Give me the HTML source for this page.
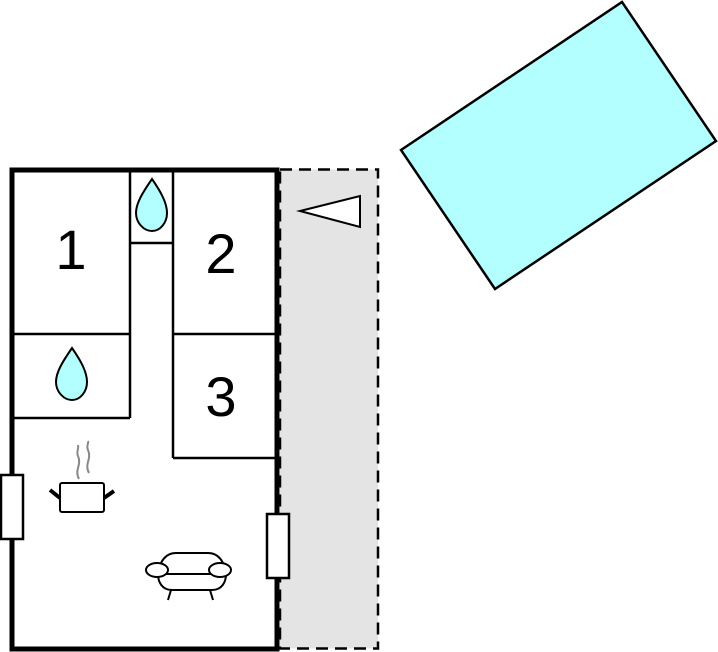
<!DOCTYPE html>
<html><head><meta charset="utf-8"><style>
html,body{margin:0;padding:0;background:#fff;}
svg{display:block;}
text{font-family:"Liberation Sans",sans-serif;font-size:56px;fill:#000;}
</style></head><body>
<svg width="718" height="652" viewBox="0 0 718 652" xmlns="http://www.w3.org/2000/svg">
<polygon points="401,150 622,2 716,141 495,289" fill="#b3ffff" stroke="#000" stroke-width="2.5"/>
<rect x="280" y="169.5" width="98" height="479" fill="#e4e4e4" stroke="#000" stroke-width="2.5" stroke-dasharray="12,7"/>
<polygon points="300,211 360,196 360,227" fill="#fff" stroke="#000" stroke-width="2"/>
<rect x="12" y="170" width="265" height="479" fill="#fff" stroke="#000" stroke-width="5"/>
<g fill="none" stroke="#000" stroke-width="2.5">
<line x1="130" y1="170" x2="130" y2="418"/>
<line x1="173" y1="170" x2="173" y2="458"/>
<line x1="130" y1="243" x2="173" y2="243"/>
<line x1="12" y1="334" x2="130" y2="334"/>
<line x1="173" y1="334" x2="277" y2="334"/>
<line x1="12" y1="418" x2="130" y2="418"/>
<line x1="173" y1="458" x2="277" y2="458"/>
</g>
<rect x="1" y="475" width="22" height="64" fill="#fff" stroke="#000" stroke-width="2.5"/>
<rect x="267" y="514" width="22" height="64" fill="#fff" stroke="#000" stroke-width="2.5"/>
<text x="71" y="269" text-anchor="middle">1</text>
<text x="221" y="273" text-anchor="middle">2</text>
<text x="221" y="416" text-anchor="middle">3</text>
<path d="M152,179 C161,192 167,203 167,213 C167,223 160,231 152,231 C144,231 136,223 136,213 C136,203 143,192 152,179 Z" fill="#b3ffff" stroke="#000" stroke-width="2"/>
<path d="M72,348 C81,361 87,372 87,382 C87,392 80,400 72,400 C64,400 56,392 56,382 C56,372 63,361 72,348 Z" fill="#b3ffff" stroke="#000" stroke-width="2"/>
<g fill="none" stroke="#888" stroke-width="2">
<path d="M79,479 C74,470 82,465 78,456 C76,452 79,449 78,445"/>
<path d="M89,473 C84,464 92,459 88,450 C86,446 89,443 88,441"/>
</g>
<rect x="60" y="483" width="44" height="29" rx="2" fill="#fff" stroke="#000" stroke-width="2"/>
<line x1="50" y1="490" x2="60" y2="498" stroke="#000" stroke-width="4"/>
<line x1="104" y1="498" x2="114" y2="491" stroke="#000" stroke-width="4"/>
<g fill="#fff" stroke="#000" stroke-width="2">
<path d="M160,574 C158,562 166,553 176,553 L208,553 C218,553 226,562 224,574 Z"/>
<path d="M158,574 L226,574 C226,582 222,590 212,590 L172,590 C162,590 158,582 158,574 Z"/>
<ellipse cx="157" cy="570" rx="11" ry="7"/>
<ellipse cx="220" cy="570" rx="11" ry="7"/>
<line x1="171" y1="590" x2="168" y2="600"/>
<line x1="210" y1="590" x2="213" y2="600"/>
</g>
</svg>
</body></html>
